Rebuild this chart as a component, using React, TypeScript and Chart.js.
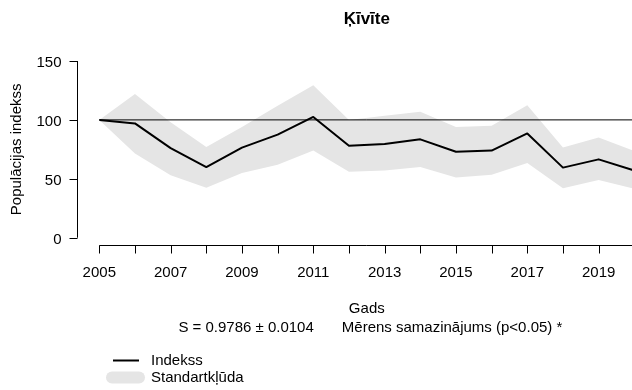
import React, { useEffect, useRef } from "react";
import { Chart, registerables } from "chart.js";

Chart.register(...registerables);

// Survey years and the population index with its standard-error band
const years = [2005, 2006, 2007, 2008, 2009, 2010, 2011, 2012, 2013, 2014, 2015, 2016, 2017, 2018, 2019, 2020];
const indexValues = [100, 97, 76, 60, 76.5, 87.5, 102.5, 78, 79.5, 83.5, 73, 74, 88.5, 59.5, 66.5, 57];
const upperValues = [100, 122, 98, 77, 94, 112, 129.5, 100, 103.5, 107, 94, 95, 112.5, 76.5, 85, 73.5];
const lowerValues = [100, 71.5, 53, 42.5, 55, 62, 74, 56, 57, 60, 51, 53.5, 63.5, 42, 49, 41.5];

const yTicks = [0, 50, 100, 150];
const xLabelYears = [2005, 2007, 2009, 2011, 2013, 2015, 2017, 2019];
const baseline = 100;

const titleText = "Ķīvīte";
const yTitle = "Populācijas indekss";
const xTitle = "Gads";
const trendText = "S = 0.9786 ± 0.0104";
const trendVerdict = "Mērens samazinājums (p<0.05) *";
const indexLabel = "Indekss";
const bandLabel = "Standartkļūda";

const BAND_COLOR = "#E5E5E5";
const FONT = "'Liberation Sans', Arial, sans-serif";

const pts = (vals: number[]) => years.map((x, i) => ({ x, y: vals[i] }));

// Draws base-graphics style detached axes, titles and the legend
const decorations = {
  id: "decorations",
  afterDraw(chart: any) {
    const ctx = chart.ctx as CanvasRenderingContext2D;
    const xs = chart.scales.x;
    const ys = chart.scales.y;
    const area = chart.chartArea;
    const cx = xs.getPixelForValue((years[0] + years[years.length - 1]) / 2);

    ctx.save();
    ctx.strokeStyle = "#000";
    ctx.fillStyle = "#000";
    ctx.lineWidth = 1;

    // y axis
    const axX = Math.round(area.left - 22) + 0.5;
    ctx.beginPath();
    ctx.moveTo(axX, ys.getPixelForValue(yTicks[0]));
    ctx.lineTo(axX, ys.getPixelForValue(yTicks[yTicks.length - 1]));
    ctx.stroke();
    ctx.font = `15px ${FONT}`;
    ctx.textAlign = "right";
    ctx.textBaseline = "middle";
    yTicks.forEach((t) => {
      const py = Math.round(ys.getPixelForValue(t)) + 0.5;
      ctx.beginPath();
      ctx.moveTo(axX, py);
      ctx.lineTo(axX - 8, py);
      ctx.stroke();
      ctx.fillText(String(t), axX - 16, py + 1);
    });

    // x axis
    const axY = Math.round(ys.getPixelForValue(0) + 7) + 0.5;
    ctx.beginPath();
    ctx.moveTo(xs.getPixelForValue(years[0]), axY);
    ctx.lineTo(xs.getPixelForValue(years[years.length - 1]), axY);
    ctx.stroke();
    years.forEach((yr) => {
      const px = Math.round(xs.getPixelForValue(yr)) + 0.5;
      ctx.beginPath();
      ctx.moveTo(px, axY);
      ctx.lineTo(px, axY + 8);
      ctx.stroke();
    });
    ctx.textAlign = "center";
    xLabelYears.forEach((yr) => {
      ctx.fillText(String(yr), xs.getPixelForValue(yr), axY + 27);
    });

    // axis titles and trend note
    ctx.fillText(xTitle, cx, axY + 63);
    ctx.textAlign = "right";
    ctx.fillText(trendText, cx - 53, axY + 82);
    ctx.textAlign = "left";
    ctx.fillText(trendVerdict, cx - 25, axY + 82);

    ctx.save();
    ctx.translate(17, (area.top + ys.getPixelForValue(0)) / 2);
    ctx.rotate(-Math.PI / 2);
    ctx.textAlign = "center";
    ctx.fillText(yTitle, 0, 0);
    ctx.restore();

    // title
    ctx.font = `bold 17px ${FONT}`;
    ctx.textAlign = "center";
    ctx.fillText(titleText, cx, 19);

    // legend
    ctx.font = `15px ${FONT}`;
    ctx.textAlign = "left";
    ctx.lineWidth = 2;
    ctx.beginPath();
    ctx.moveTo(113, 360.5);
    ctx.lineTo(139, 360.5);
    ctx.stroke();
    ctx.fillText(indexLabel, 151, 361);

    ctx.fillStyle = BAND_COLOR;
    ctx.beginPath();
    (ctx as any).roundRect(106, 371.5, 39, 12, 6);
    ctx.fill();
    ctx.fillStyle = "#000";
    ctx.fillText(bandLabel, 151, 378);

    ctx.restore();
  },
};

export default function App() {
  const ref = useRef<HTMLCanvasElement | null>(null);

  useEffect(() => {
    if (!ref.current) return;
    const chart = new Chart(ref.current, {
      type: "line",
      data: {
        datasets: [
          {
            label: indexLabel,
            data: pts(indexValues),
            borderColor: "#000",
            borderWidth: 2,
            borderJoinStyle: "round",
            borderCapStyle: "round",
            pointRadius: 0,
            fill: false,
            order: 0,
          },
          {
            label: "baseline",
            data: [
              { x: years[0], y: baseline },
              { x: years[years.length - 1], y: baseline },
            ],
            borderColor: "#000",
            borderWidth: 1,
            pointRadius: 0,
            fill: false,
            order: 1,
          },
          {
            label: bandLabel,
            data: pts(upperValues),
            borderWidth: 0,
            borderColor: "rgba(0,0,0,0)",
            backgroundColor: BAND_COLOR,
            pointRadius: 0,
            fill: "+1",
            order: 2,
          },
          {
            label: "lower",
            data: pts(lowerValues),
            borderWidth: 0,
            borderColor: "rgba(0,0,0,0)",
            pointRadius: 0,
            fill: false,
            order: 3,
          },
        ],
      },
      options: {
        responsive: false,
        animation: false,
        layout: { padding: { left: 99.3, right: 5.7, top: 61, bottom: 152.3 } },
        scales: {
          x: { type: "linear", min: years[0], max: years[years.length - 1], display: false },
          y: { type: "linear", min: 0, max: 150, display: false },
        },
        plugins: {
          legend: { display: false },
          tooltip: { enabled: false },
          title: { display: false },
        },
      },
      plugins: [decorations],
    });
    return () => chart.destroy();
  }, []);

  return (
    <div
      style={{
        position: "fixed",
        left: 0,
        top: 0,
        width: 632,
        height: 390,
        overflow: "hidden",
        background: "#fff",
      }}
    >
      <canvas ref={ref} width={640} height={390} style={{ display: "block" }} />
    </div>
  );
}
